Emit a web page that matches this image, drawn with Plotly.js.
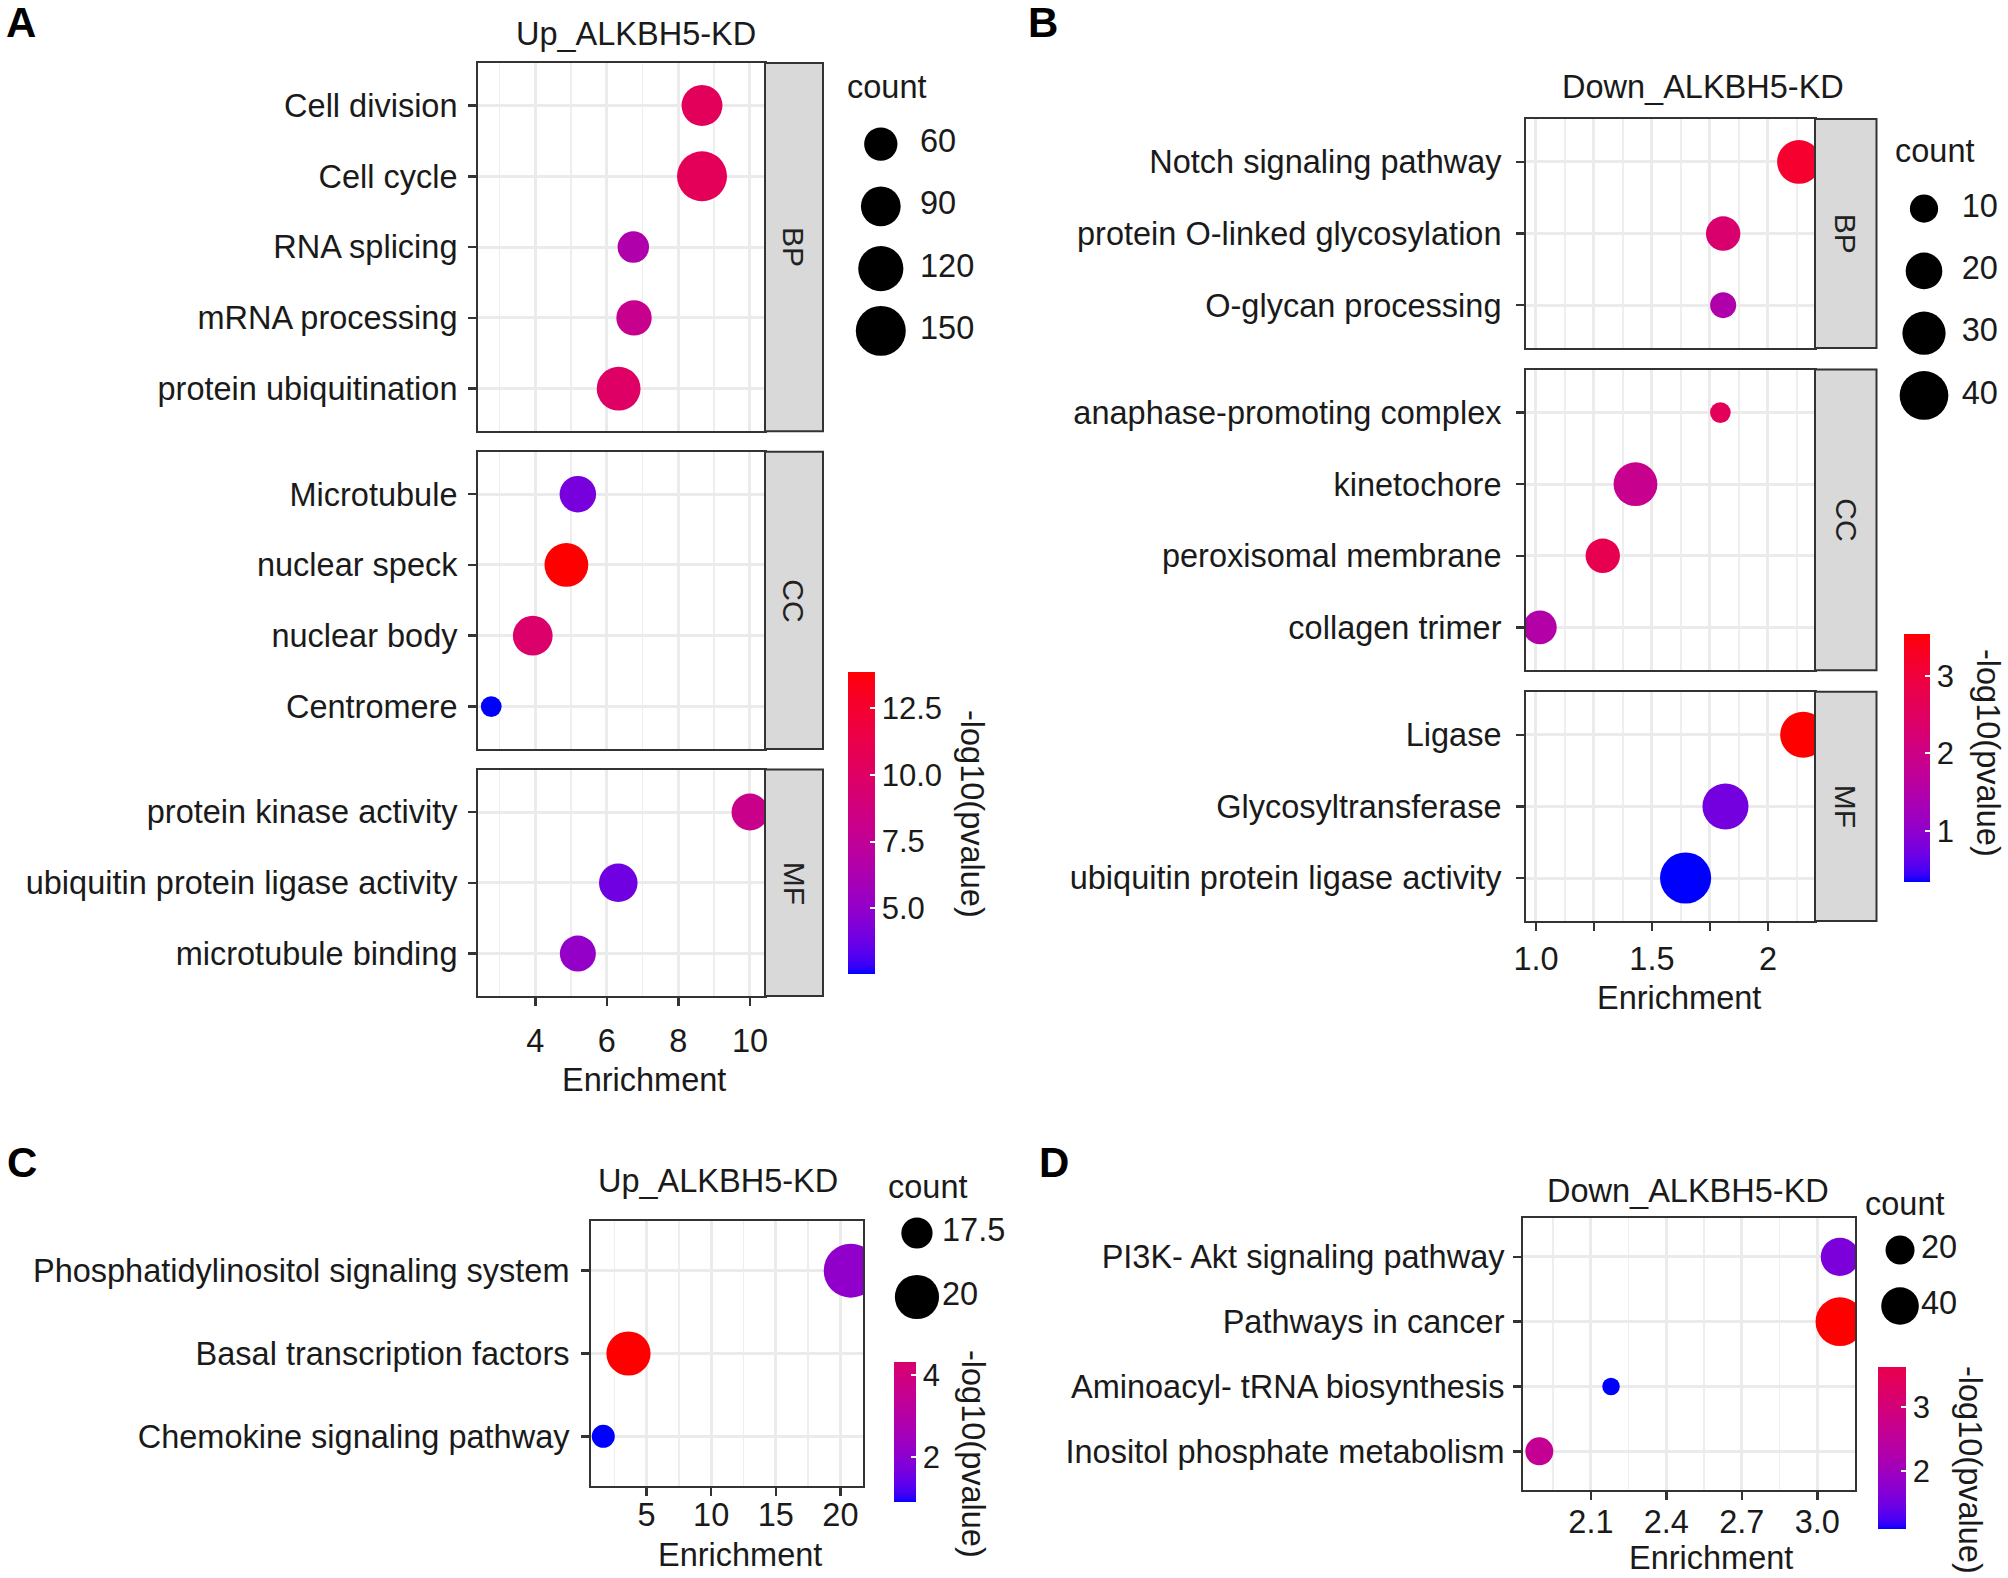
<!DOCTYPE html>
<html>
<head>
<meta charset="utf-8">
<script src="https://cdn.plot.ly/plotly-3.0.1.min.js"></script>
<style>html,body{margin:0;padding:0;background:#fff;}#chart{width:2008px;height:1578px;}</style>
</head>
<body>
<div id="chart"></div>
<script>
// ---------------- DATA ----------------
// Panel A (GO, Up_ALKBH5-KD)
const A_terms = ["Cell division","Cell cycle","RNA splicing","mRNA processing","protein ubiquitination",
                 "Microtubule","nuclear speck","nuclear body","Centromere",
                 "protein kinase activity","ubiquitin protein ligase activity","microtubule binding"];
const A_group = ["BP","BP","BP","BP","BP","CC","CC","CC","CC","MF","MF","MF"];
const A_enrichment = [8.66, 8.66, 6.74, 6.76, 6.33, 5.19, 4.87, 3.93, 2.77, 10.0, 6.32, 5.19];
const A_count = [96, 150, 53, 69, 112, 74, 112, 90, 19, 76, 84, 72];
const A_logp = [10.5, 10.6, 6.5, 8.0, 10.0, 4.1, 13.87, 9.7, 2.56, 8.1, 3.9, 5.1];
const A_xticks = [4, 6, 8, 10];
const A_xticklabels = ["4", "6", "8", "10"];
const A_cbticks = [5, 7.5, 10, 12.5];
const A_cblabels = ["5.0", "7.5", "10.0", "12.5"];
const A_countbreaks = [60, 90, 120, 150];

// Panel B (GO, Down_ALKBH5-KD)
const B_terms = ["Notch signaling pathway","protein O-linked glycosylation","O-glycan processing",
                 "anaphase-promoting complex","kinetochore","peroxisomal membrane","collagen trimer",
                 "Ligase","Glycosyltransferase","ubiquitin protein ligase activity"];
const B_group = ["BP","BP","BP","CC","CC","CC","CC","MF","MF","MF"];
const B_enrichment = [2.134, 1.807, 1.807, 1.795, 1.429, 1.288, 1.017, 2.152, 1.817, 1.645];
const B_count = [31, 17, 8, 4, 31, 17, 16, 35, 35, 45];
const B_logp = [3.16, 2.32, 1.46, 2.58, 1.88, 2.74, 1.52, 3.54, 0.76, 0.34];
const B_xticks = [1.0, 1.25, 1.5, 1.75, 2.0];
const B_xticklabels = ["1.0", "", "1.5", "", "2"];
const B_cbticks = [1, 2, 3];
const B_cblabels = ["1", "2", "3"];
const B_countbreaks = [10, 20, 30, 40];

// Panel C (KEGG, Up_ALKBH5-KD)
const C_terms = ["Phosphatidylinositol signaling system","Basal transcription factors","Chemokine signaling pathway"];
const C_enrichment = [20.8, 3.6, 1.65];
const C_count = [22, 20, 16];
const C_logp = [2.1, 6.52, 0.9];
const C_xticks = [5, 10, 15, 20];
const C_xticklabels = ["5", "10", "15", "20"];
const C_cbticks = [2, 4];
const C_cblabels = ["2", "4"];
const C_countbreaks = [17.5, 20];

// Panel D (KEGG, Down_ALKBH5-KD)
const D_terms = ["PI3K- Akt signaling pathway","Pathways in cancer","Aminoacyl- tRNA biosynthesis","Inositol phosphate metabolism"];
const D_enrichment = [3.09, 3.09, 2.18, 1.895];
const D_count = [42, 76, 4, 18];
const D_logp = [1.59, 4.42, 1.09, 2.6];
const D_xticks = [2.1, 2.4, 2.7, 3.0];
const D_xticklabels = ["2.1", "2.4", "2.7", "3.0"];
const D_cbticks = [2, 3];
const D_cblabels = ["2", "3"];
const D_countbreaks = [20, 40];

// ---------------- STYLE / LAYOUT CONFIG ----------------
const W = 2008, H = 1578;
const FONT = '"Liberation Sans", Arial, Helvetica, sans-serif';
const TXT = '#1a1a1a';
const FS = 32.5;

const cfgA = {plotL:478, plotR:765, stripR:823, top:63, unit:70.8, gap:20.5,
  xrange:[2.4, 10.42], minor:[3,5,7,9], xStandoff:7, yStandoff:4, size:{a:4.65, b:3.70},
  title:{text:'Up_ALKBH5-KD', x:636, y:34}, letter:{text:'A', x:21, y:23}, xtitle:{x:644, y:1080},
  legend:{box:[850, 990, 113, 362], cx:0.22, lx:0.5, tx:845, ty:87},
  cbar:{x:847.5, top:671.7, bottom:973.3, thick:27, tx:972, ty:814}};
const cfgB = {plotL:1526, plotR:1815, stripR:1876.5, top:119, unit:71.6, gap:21.5,
  xrange:[0.957, 2.203], minor:[1.125,1.375,1.625,1.875,2.125], xStandoff:0, yStandoff:8, size:{a:7.7, b:6.48},
  title:{text:'Down_ALKBH5-KD', x:1703, y:87}, letter:{text:'B', x:1043, y:23}, xtitle:{x:1679, y:998},
  legend:{box:[1885, 2005, 177.5, 426.6], cx:0.325, lx:0.64, tx:1893, ty:151},
  cbar:{x:1904, top:634, bottom:881.7, thick:26, tx:1988, ty:753}};
const cfgC = {plotL:591, plotR:863, top:1221, unit:82.8, gap:0,
  xrange:[0.7, 21.75], minor:[2.5,7.5,12.5,17.5], xStandoff:-9, yStandoff:5, size:{a:-156.6, b:44.9},
  title:{text:'Up_ALKBH5-KD', x:718, y:1181}, letter:{text:'C', x:22, y:1162}, xtitle:{x:740, y:1555},
  legend:{box:[880, 1000, 1201, 1329], cx:0.308, lx:0.517, tx:886, ty:1187},
  cbar:{x:894, top:1361.7, bottom:1501.7, thick:22, tx:973, ty:1454, visTop:4.33}};
const cfgD = {plotL:1523, plotR:1855, top:1218, unit:64.8, gap:0,
  xrange:[1.83, 3.15], minor:[1.95,2.25,2.55,2.85], xStandoff:-6, yStandoff:2, size:{a:8.25, b:4.64},
  title:{text:'Down_ALKBH5-KD', x:1688, y:1191}, letter:{text:'D', x:1054, y:1162}, xtitle:{x:1711, y:1558},
  legend:{box:[1860, 2000, 1222, 1334], cx:0.286, lx:0.436, tx:1863, ty:1204},
  cbar:{x:1878, top:1367, bottom:1529, thick:27.7, tx:1970, ty:1470, visTop:3.62}};

// ---------------- COLOUR SCALE (ggplot blue->red, CIELAB) ----------------
function s2l(c){c/=255; return c<=0.04045 ? c/12.92 : Math.pow((c+0.055)/1.055, 2.4);}
function l2s(v){v=Math.max(0,Math.min(1,v)); return v<=0.0031308 ? 12.92*v : 1.055*Math.pow(v,1/2.4)-0.055;}
function rgb2lab(rgb){
  const R=s2l(rgb[0]),G=s2l(rgb[1]),B=s2l(rgb[2]);
  const X=(0.4124*R+0.3576*G+0.1805*B)/0.95047, Y=0.2126*R+0.7152*G+0.0722*B, Z=(0.0193*R+0.1192*G+0.9505*B)/1.08883;
  const f=t=> t>0.008856 ? Math.cbrt(t) : 7.787*t+16/116;
  const fx=f(X), fy=f(Y), fz=f(Z);
  return [116*fy-16, 500*(fx-fy), 200*(fy-fz)];
}
function lab2rgb(lab){
  const fy=(lab[0]+16)/116, fx=fy+lab[1]/500, fz=fy-lab[2]/200;
  const fi=t=> t*t*t>0.008856 ? t*t*t : (t-16/116)/7.787;
  const X=0.95047*fi(fx), Y=fi(fy), Z=1.08883*fi(fz);
  const R=3.2406*X-1.5372*Y-0.4986*Z, G=-0.9689*X+1.8758*Y+0.0415*Z, B=0.0557*X-0.2040*Y+1.0570*Z;
  return [R,G,B].map(v=>Math.round(255*l2s(v)));
}
const LOW = rgb2lab([0,0,255]), HIGH = rgb2lab([255,0,0]);
function colAt(t){
  const lab=[0,1,2].map(i=>LOW[i]+(HIGH[i]-LOW[i])*t);
  const c=lab2rgb(lab); return 'rgb('+c[0]+','+c[1]+','+c[2]+')';
}
function colorscale(t1){ // portion [0,t1] of the full gradient
  const out=[]; const N=40;
  for(let j=0;j<=N;j++){ out.push([j/N, colAt(t1*j/N)]); }
  return out;
}

// ---------------- BUILD ----------------
const traces = [];
const layout = {
  width:W, height:H, margin:{l:0,r:0,t:0,b:0},
  paper_bgcolor:'#ffffff', plot_bgcolor:'#ffffff', showlegend:false,
  font:{family:FONT, size:FS, color:TXT},
  shapes:[], annotations:[]
};
let axN = 0;
function sfx(k){ return k===1 ? '' : String(k); }
function ann(text, x, y, opt){
  layout.annotations.push(Object.assign({text:text, xref:'paper', yref:'paper', x:x/W, y:1-y/H,
    showarrow:false, xanchor:'center', yanchor:'middle', font:{family:FONT, size:FS, color:TXT}}, opt||{}));
}

function buildPanel(d, cfg){
  const groups = d.group ? [...new Set(d.group)] : [null];
  const cmin = Math.min(...d.logp), cmax = Math.max(...d.logp);
  const sz = c => cfg.size.a + cfg.size.b*Math.sqrt(c);
  const full = colorscale(1);
  const cb = cfg.cbar;
  const cbarObj = () => ({
    x: cb.x/W, xanchor:'left', y: 1-(cb.top+cb.bottom)/2/H, yanchor:'middle',
    len: cb.bottom-cb.top, lenmode:'pixels', thickness: cb.thick, thicknessmode:'pixels',
    xpad:0, ypad:0, outlinewidth:0, bgcolor:'rgba(0,0,0,0)',
    tickmode:'array', tickvals:d.cbticks, ticktext:d.cblabels,
    ticks:'inside', ticklen:5, tickwidth:2, tickcolor:'#ffffff',
    tickfont:{family:FONT, size:31, color:TXT}, title:{text:''}
  });
  let y = cfg.top;
  let firstAx = null;
  groups.forEach((g, gi) => {
    const idx = d.terms.map((t,i)=>i).filter(i => g===null || d.group[i]===g);
    const cats = idx.map(i=>d.terms[i]);
    const n = cats.length;
    const t = y, b = y + (n + 0.2)*cfg.unit;
    const k = ++axN, s = sfx(k);
    if(firstAx===null) firstAx = s;
    const isLast = gi === groups.length-1;
    layout['xaxis'+s] = {
      domain:[cfg.plotL/W, cfg.plotR/W], anchor:'y'+s, range:cfg.xrange, fixedrange:true,
      showline:true, mirror:true, linecolor:'#333333', linewidth:2, zeroline:false,
      showgrid:true, gridcolor:'#EBEBEB', gridwidth:3,
      tickmode:'array', tickvals:d.xticks, ticktext:d.xticklabels,
      ticks: isLast ? 'outside' : '', ticklen:8, tickwidth:2.5, tickcolor:'#333333',
      showticklabels:isLast, ticklabelstandoff:cfg.xStandoff,
      tickfont:{family:FONT, size:FS, color:TXT},
      minor:{tickmode:'array', tickvals:cfg.minor, showgrid:true, gridcolor:'#EEEEEE', gridwidth:1.5, ticks:''}
    };
    layout['yaxis'+s] = {
      domain:[1-b/H, 1-t/H], anchor:'x'+s, type:'category', categoryorder:'array', categoryarray:cats,
      range:[n-0.4, -0.6], fixedrange:true,
      showline:true, mirror:true, linecolor:'#333333', linewidth:2, zeroline:false,
      showgrid:true, gridcolor:'#EBEBEB', gridwidth:3,
      ticks:'outside', ticklen:8, tickwidth:2.5, tickcolor:'#333333', ticklabelstandoff:cfg.yStandoff,
      tickfont:{family:FONT, size:FS, color:TXT}
    };
    const showMain = (gi===0 && cb.visTop===undefined);
    traces.push({
      type:'scatter', mode:'markers', xaxis:'x'+s, yaxis:'y'+s,
      x: idx.map(i=>d.enrichment[i]), y: cats, cliponaxis:true, hoverinfo:'skip',
      marker:{size: idx.map(i=>sz(d.count[i])), color: idx.map(i=>d.logp[i]), cmin:cmin, cmax:cmax,
        colorscale:full, line:{width:0}, opacity:1, showscale:showMain,
        colorbar: showMain ? cbarObj() : undefined}
    });
    if(g!==null){
      layout.shapes.push({type:'rect', xref:'paper', yref:'paper', layer:'above',
        x0:cfg.plotR/W, x1:cfg.stripR/W, y0:1-b/H, y1:1-t/H,
        fillcolor:'#D9D9D9', line:{color:'#333333', width:2}});
      ann(g, (cfg.plotR+cfg.stripR)/2, (t+b)/2, {textangle:90, font:{family:FONT, size:30, color:'#222222'}});
    }
    y = b + cfg.gap;
  });
  // visible part of the colour bar for panels whose bar top is covered in the original figure
  if(cb.visTop!==undefined){
    const frac = (cb.visTop - cmin)/(cmax - cmin);
    traces.push({type:'scatter', mode:'markers', xaxis:'x'+firstAx, yaxis:'y'+firstAx,
      x:[d.enrichment[0]], y:[d.terms[0]], hoverinfo:'skip', cliponaxis:true,
      marker:{size:1, opacity:0, color:[cmin], cmin:cmin, cmax:cb.visTop, colorscale:colorscale(frac),
        showscale:true, colorbar:cbarObj()}});
  }
  ann('-log10(pvalue)', cb.tx, cb.ty, {textangle:90});

  // size legend
  const k = ++axN, s = sfx(k);
  const L = cfg.legend; const labs = d.countbreaks.map(String); const nb = labs.length;
  layout['xaxis'+s] = {domain:[L.box[0]/W, L.box[1]/W], anchor:'y'+s, range:[0,1], visible:false, fixedrange:true};
  layout['yaxis'+s] = {domain:[1-L.box[3]/H, 1-L.box[2]/H], anchor:'x'+s, type:'category',
    categoryorder:'array', categoryarray:labs, range:[nb-0.5, -0.5], visible:false, fixedrange:true};
  traces.push({type:'scatter', mode:'markers', xaxis:'x'+s, yaxis:'y'+s, cliponaxis:false, hoverinfo:'skip',
    x: labs.map(()=>L.cx), y: labs, marker:{size:d.countbreaks.map(sz), color:'#000000', opacity:1, line:{width:0}}});
  traces.push({type:'scatter', mode:'text', xaxis:'x'+s, yaxis:'y'+s, cliponaxis:false, hoverinfo:'skip',
    x: labs.map(()=>L.lx), y: labs, text: labs, textposition:'middle right',
    textfont:{family:FONT, size:FS, color:TXT}});
  ann('count', L.tx, L.ty, {xanchor:'left'});

  // titles
  ann(cfg.title.text, cfg.title.x, cfg.title.y);
  ann('Enrichment', cfg.xtitle.x, cfg.xtitle.y);
  ann('<b>'+cfg.letter.text+'</b>', cfg.letter.x, cfg.letter.y, {font:{family:FONT, size:42, color:'#000000'}});
}

buildPanel({terms:A_terms, group:A_group, enrichment:A_enrichment, count:A_count, logp:A_logp,
  xticks:A_xticks, xticklabels:A_xticklabels, cbticks:A_cbticks, cblabels:A_cblabels, countbreaks:A_countbreaks}, cfgA);
buildPanel({terms:B_terms, group:B_group, enrichment:B_enrichment, count:B_count, logp:B_logp,
  xticks:B_xticks, xticklabels:B_xticklabels, cbticks:B_cbticks, cblabels:B_cblabels, countbreaks:B_countbreaks}, cfgB);
buildPanel({terms:C_terms, group:null, enrichment:C_enrichment, count:C_count, logp:C_logp,
  xticks:C_xticks, xticklabels:C_xticklabels, cbticks:C_cbticks, cblabels:C_cblabels, countbreaks:C_countbreaks}, cfgC);
buildPanel({terms:D_terms, group:null, enrichment:D_enrichment, count:D_count, logp:D_logp,
  xticks:D_xticks, xticklabels:D_xticklabels, cbticks:D_cbticks, cblabels:D_cblabels, countbreaks:D_countbreaks}, cfgD);

Plotly.newPlot('chart', traces, layout, {staticPlot:true, displayModeBar:false});
</script>
</body>
</html>
